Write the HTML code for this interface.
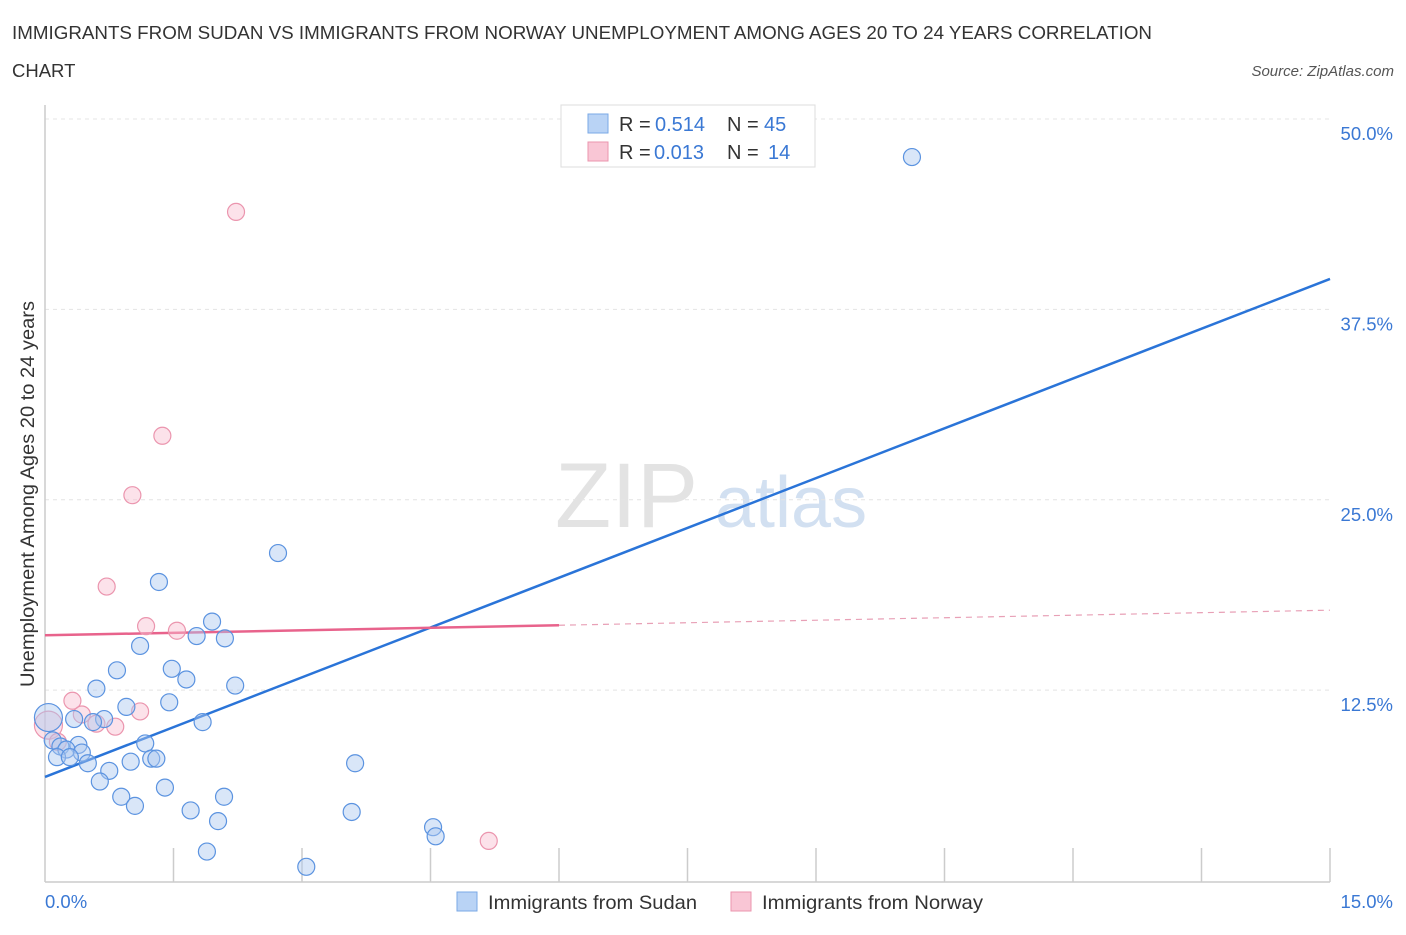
<!DOCTYPE html>
<html><head><meta charset="utf-8">
<style>
body{margin:0;background:#fff;font-family:"Liberation Sans",sans-serif;}
svg text{font-family:"Liberation Sans",sans-serif;}
</style></head>
<body>
<svg id="chart" width="1406" height="930" xmlns="http://www.w3.org/2000/svg">
<text x="12" y="39" font-size="18.5" fill="#333" textLength="1140" lengthAdjust="spacingAndGlyphs">IMMIGRANTS FROM SUDAN VS IMMIGRANTS FROM NORWAY UNEMPLOYMENT AMONG AGES 20 TO 24 YEARS CORRELATION</text>
<text x="12" y="77" font-size="18.5" fill="#333">CHART</text>
<text x="1394" y="76" font-size="15" fill="#555" font-style="italic" text-anchor="end">Source: ZipAtlas.com</text>
<text x="555" y="527" font-size="92" fill="#ddd" font-family="Liberation Serif" opacity="0.8">ZIP</text>
<text x="715" y="527" font-size="72" fill="#c8d9ee" opacity="0.8">atlas</text>
<text transform="translate(34,494) rotate(-90)" font-size="19" fill="#333" text-anchor="middle" textLength="386" lengthAdjust="spacingAndGlyphs">Unemployment Among Ages 20 to 24 years</text>
<g id="grid"></g><g id="axes"></g><g id="lines"></g><g id="points"></g>
<g>
<rect x="561" y="105" width="254" height="62" fill="#fff" stroke="#ddd"/>
<rect x="588" y="114" width="20" height="19" fill="#b9d3f5" stroke="#7aa8e6"/>
<rect x="588" y="142" width="20" height="19" fill="#f9c6d5" stroke="#eb95ae"/>
<text x="619" y="131" font-size="20" fill="#333">R =</text>
<text x="655" y="131" font-size="20" fill="#3a78d4">0.514</text>
<text x="727" y="131" font-size="20" fill="#333">N =</text>
<text x="764" y="131" font-size="20" fill="#3a78d4">45</text>
<text x="619" y="159" font-size="20" fill="#333">R =</text>
<text x="654" y="159" font-size="20" fill="#3a78d4">0.013</text>
<text x="727" y="159" font-size="20" fill="#333">N =</text>
<text x="768" y="159" font-size="20" fill="#3a78d4">14</text>
</g>
<g>
<rect x="457" y="892" width="20" height="19" fill="#b9d3f5" stroke="#7aa8e6"/>
<text x="488" y="909" font-size="19.5" fill="#333" textLength="209" lengthAdjust="spacingAndGlyphs">Immigrants from Sudan</text>
<rect x="731" y="892" width="20" height="19" fill="#f9c6d5" stroke="#eb95ae"/>
<text x="762" y="909" font-size="19.5" fill="#333" textLength="221" lengthAdjust="spacingAndGlyphs">Immigrants from Norway</text>
</g>
</svg>
<script>
const sudanX=[10.12,2.72,1.33,1.95,1.11,1.77,2.10,0.84,1.48,1.65,2.22,0.60,1.45,0.95,0.34,0.69,0.56,1.84,0.04,0.09,1.17,0.18,0.39,0.25,0.43,0.14,0.29,0.50,1.24,1.30,1.00,3.62,0.75,0.64,1.40,0.89,1.05,2.09,1.70,3.58,2.02,4.53,4.56,1.89,3.05];
const sudanY=[47.5,21.5,19.6,17.0,15.4,16.05,15.9,13.8,13.9,13.2,12.8,12.6,11.7,11.4,10.6,10.6,10.4,10.4,10.7,9.2,9.0,8.8,8.9,8.6,8.4,8.1,8.1,7.7,8.0,8.0,7.8,7.7,7.2,6.5,6.1,5.5,4.9,5.5,4.6,4.5,3.9,3.5,2.9,1.9,0.9];
const norwayX=[2.23,1.37,1.02,0.72,1.18,1.54,0.32,1.11,0.43,0.60,0.82,0.04,0.15,5.18];
const norwayY=[43.9,29.2,25.3,19.3,16.7,16.4,11.8,11.1,10.9,10.3,10.1,10.2,9.1,2.6];
const sudanFit=[6.8,39.5];
const norwayFit=[16.1,17.75];
const norwaySolidEnd=6.0;
const yTicks=[12.5,25,37.5,50];
const yTickLabels=["12.5%","25.0%","37.5%","50.0%"];
const xMax=15,yMax=50;
const NS="http://www.w3.org/2000/svg";
const x0=45,x1=1330,yb=880.5,yt=119;
const sx=v=>x0+v/xMax*(x1-x0);
const sy=v=>yb-v/yMax*(yb-yt);
function mk(tag,attrs,parent){const e=document.createElementNS(NS,tag);for(const k in attrs)e.setAttribute(k,attrs[k]);document.getElementById(parent).appendChild(e);return e;}
yTicks.forEach((t,i)=>{
 const g=mk('line',{x1:x0,x2:1330,y1:sy(t),y2:sy(t),stroke:'#e4e4e4','stroke-dasharray':'4,4'},'grid');
 
 
 const l=mk('text',{x:1393,y:sy(t)+21,'font-size':18.5,fill:'#3a78d4','text-anchor':'end'},'grid');
 l.textContent=yTickLabels[i];
 
 
});
const ax=mk('line',{x1:x0,x2:x0,y1:105,y2:882,stroke:'#ccc','stroke-width':1.5},'axes');


const bx=mk('line',{x1:x0,x2:1330,y1:882,y2:882,stroke:'#ccc','stroke-width':1.5},'axes');


for(let i=1;i<=10;i++){
 const t=mk('line',{x1:sx(i*1.5),x2:sx(i*1.5),y1:848,y2:882,stroke:'#ccc','stroke-width':1.5},'axes');
 
 
}
const xl0=mk('text',{x:45,y:908,'font-size':18.5,fill:'#3a78d4'},'axes');xl0.textContent='0.0%';


const xl1=mk('text',{x:1393,y:908,'font-size':18.5,fill:'#3a78d4','text-anchor':'end'},'axes');xl1.textContent='15.0%';


function pt(x,y,fill,stroke,name,r){
 const c=mk('circle',{cx:sx(x),cy:sy(y),r:r,fill:fill,stroke:stroke,'stroke-width':1.2},'points');
 
 
}
norwayX.forEach((x,i)=>pt(x,norwayY[i],'rgba(249,190,208,0.45)','#eb95ae','norway-point',i==11?14:8.5));
sudanX.forEach((x,i)=>pt(x,sudanY[i],'rgba(170,200,240,0.45)','#5b93e0','sudan-point',i==18?14:8.5));
const bl=mk('line',{x1:sx(0),y1:sy(sudanFit[0]),x2:sx(15),y2:sy(sudanFit[1]),stroke:'#2a74d8','stroke-width':2.5},'lines');


const nAt=v=>norwayFit[0]+(norwayFit[1]-norwayFit[0])*v/15;
const pl=mk('line',{x1:sx(0),y1:sy(nAt(0)),x2:sx(norwaySolidEnd),y2:sy(nAt(norwaySolidEnd)),stroke:'#e8638c','stroke-width':2.5},'lines');


const pd=mk('line',{x1:sx(norwaySolidEnd),y1:sy(nAt(norwaySolidEnd)),x2:sx(15),y2:sy(nAt(15)),stroke:'#e8a0b6','stroke-width':1.2,'stroke-dasharray':'6,5'},'lines');


</script>
</body></html>
